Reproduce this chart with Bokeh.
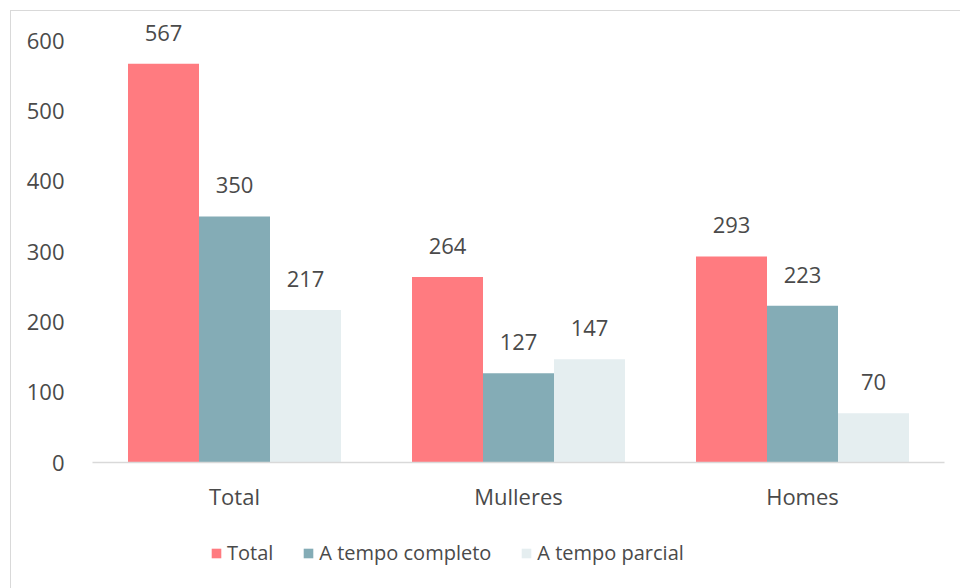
from bokeh.plotting import figure
from bokeh.layouts import column
from bokeh.models import (FactorRange, Range1d, ColumnDataSource, LabelSet, Legend,
                          LegendItem, FixedTicker)
from bokeh.core.properties import value
from bokeh.transform import dodge
from bokeh.embed import file_html
from bokeh.resources import INLINE

categories = ["Total", "Mulleres", "Homes"]
series_names = ["Total", "A tempo completo", "A tempo parcial"]
total = [567, 264, 293]
completo = [350, 127, 223]
parcial = [217, 147, 70]
y_ticks = [0, 100, 200, 300, 400, 500, 600]

colors = ["#FF7B80", "#84ACB6", "#E5EEF0"]
FONT = "Open Sans"
TXT = "#4a4a4a"

src = ColumnDataSource(dict(
    cat=categories,
    total=total, completo=completo, parcial=parcial,
    total_s=[str(v) for v in total],
    completo_s=[str(v) for v in completo],
    parcial_s=[str(v) for v in parcial],
))

p = figure(width=949, height=511, x_range=FactorRange(*categories),
           y_range=Range1d(0, 640), output_backend="svg", toolbar_location=None,
           min_border_left=81, min_border_right=16, min_border_top=1,
           min_border_bottom=60)
p.outline_line_color = None
p.background_fill_color = "white"
p.border_fill_color = "white"
p.xgrid.grid_line_color = None
p.ygrid.grid_line_color = None

fields = ["total", "completo", "parcial"]
offsets = [-0.25, 0.0, 0.25]
for f, off, c in zip(fields, offsets, colors):
    p.vbar(x=dodge("cat", off, range=p.x_range), top=f, width=0.25,
           source=src, fill_color=c, line_color=None)
    lbl = LabelSet(x=dodge("cat", off, range=p.x_range), y=f, text=f + "_s",
                   source=src, text_align="center", text_baseline="alphabetic",
                   y_offset=23, text_font=value(FONT), text_font_size="22px",
                   text_color=TXT)
    p.add_layout(lbl)

p.yaxis.ticker = FixedTicker(ticks=y_ticks)
p.yaxis.axis_line_color = None
p.yaxis.major_tick_line_color = None
p.yaxis.minor_tick_line_color = None
p.yaxis.major_label_standoff = 22
p.yaxis.major_label_text_font = FONT
p.yaxis.major_label_text_font_size = "22px"
p.yaxis.major_label_text_color = TXT

p.xaxis.axis_line_color = "#d9d9d9"
p.xaxis.axis_line_width = 1.5
p.xaxis.major_tick_line_color = None
p.xaxis.minor_tick_line_color = None
p.xaxis.major_label_standoff = 12
p.xaxis.major_label_text_font = FONT
p.xaxis.major_label_text_font_size = "22px"
p.xaxis.major_label_text_color = TXT

# legend strip below the chart (its bars lie far outside the view; only swatches show)
lf = figure(width=949, height=66, x_range=FactorRange(*categories),
            y_range=Range1d(5000, 5001), output_backend="svg", toolbar_location=None,
            x_axis_type=None, y_axis_type=None,
            min_border_left=0, min_border_right=0, min_border_top=0,
            min_border_bottom=0)
lf.outline_line_color = None
lf.xgrid.grid_line_color = None
lf.ygrid.grid_line_color = None
items = []
for f, c, name in zip(fields, colors, series_names):
    r = lf.vbar(x="cat", top=f, width=0.25, source=src, fill_color=c, line_color=None)
    items.append(LegendItem(label=name, renderers=[r]))
legend = Legend(items=items, orientation="horizontal", location=(118, 22),
                glyph_width=12, glyph_height=12, label_standoff=5, spacing=29,
                label_text_font=FONT, label_text_font_size="20px",
                label_text_color=TXT, border_line_color=None,
                background_fill_alpha=0, padding=0, margin=0)
lf.add_layout(legend, "center")

layout = column(p, lf, spacing=0)
layout.styles = {"margin-left": "10px", "margin-top": "10px",
                 "border-left": "1px solid #d9d9d9", "border-top": "1px solid #d9d9d9"}

open("out.html", "w").write(file_html(layout, INLINE))
